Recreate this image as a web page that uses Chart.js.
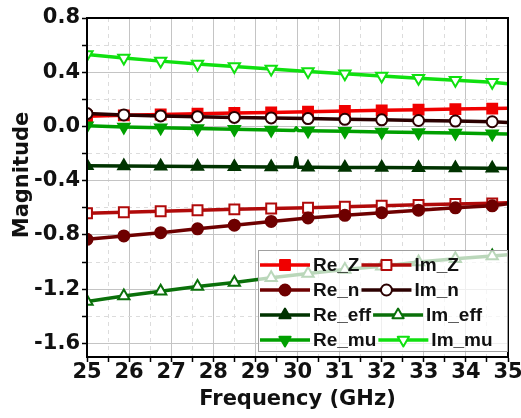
<!DOCTYPE html>
<html>
<head>
<meta charset="utf-8">
<script src="https://cdn.jsdelivr.net/npm/chart.js@4.4.1/dist/chart.umd.min.js"></script>
<style>
    html, body { margin: 0; padding: 0; background: #fff; }
    #wrap { width: 521px; height: 418px; }
</style>
</head>
<body>
<div id="wrap"><canvas id="chart"></canvas></div>
<script>
// Frequencies (GHz) where markers sit; every series also ends at 35 GHz without a marker
const markerFreq = [25, 25.875, 26.75, 27.625, 28.5, 29.375, 30.25, 31.125, 32, 32.875, 33.75, 34.625];
const endFreq = 35;

// 12 marker values + the value at 35 GHz
const reZ   = [0.075, 0.082, 0.088, 0.094, 0.099, 0.104, 0.109, 0.114, 0.119, 0.124, 0.128, 0.132, 0.134];
const imZ   = [-0.64, -0.632, -0.625, -0.618, -0.611, -0.605, -0.599, -0.592, -0.585, -0.578, -0.572, -0.567, -0.563];
const reN   = [-0.832, -0.807, -0.783, -0.755, -0.728, -0.70, -0.675, -0.655, -0.636, -0.617, -0.60, -0.585, -0.57];
const imN   = [0.095, 0.085, 0.078, 0.072, 0.067, 0.063, 0.058, 0.053, 0.049, 0.044, 0.04, 0.035, 0.03];
const reEff = [-0.29, -0.292, -0.294, -0.296, -0.297, -0.299, -0.30, -0.302, -0.303, -0.305, -0.306, -0.308, -0.31];
const imEff = [-1.29, -1.25, -1.215, -1.18, -1.15, -1.115, -1.085, -1.055, -1.03, -1.0, -0.975, -0.955, -0.945];
const reMu  = [0.005, -0.003, -0.009, -0.015, -0.021, -0.026, -0.031, -0.036, -0.041, -0.045, -0.049, -0.053, -0.056];
const imMu  = [0.53, 0.505, 0.482, 0.461, 0.442, 0.424, 0.406, 0.389, 0.372, 0.356, 0.341, 0.326, 0.315];

// Narrow glitch around 30 GHz (no markers on these samples)
const glitchFreq  = [29.93, 29.97, 30.01];
const reEffGlitch = [-0.299, -0.23, -0.30];
const reMuGlitch  = [-0.029, -0.010, -0.030];

// Axis ticks
const xMajorTicks = [25, 26, 27, 28, 29, 30, 31, 32, 33, 34, 35];
const xMinorTicks = [25.5, 26.5, 27.5, 28.5, 29.5, 30.5, 31.5, 32.5, 33.5, 34.5];
const yMajorTicks = [-1.6, -1.2, -0.8, -0.4, 0, 0.4, 0.8];
const yMinorTicks = [-1.4, -1.0, -0.6, -0.2, 0.2, 0.6];

const AXIS_FONT   = { family: 'DejaVu Sans', weight: 'bold', size: 21 };
const LEGEND_FONT = 'bold 19px "Liberation Sans", Arial, sans-serif';

// ─── Data helpers ────────────────────────────────────────────────────────────

function buildPoints(values, extraFreq = [], extraValues = []) {
    const pts = markerFreq.map((f, i) => ({ x: f, y: values[i] }));
    pts.push({ x: endFreq, y: values[values.length - 1] });
    extraFreq.forEach((f, i) => pts.push({ x: f, y: extraValues[i] }));
    return pts.sort((a, b) => a.x - b.x);
}

const isNear = (v, list) => list.some(t => Math.abs(t - v) < 1e-6);

function makeSeries(label, points, color, style, filled, radius, rotation = 0) {
    return {
        label,
        data: points,
        borderColor: color,
        backgroundColor: color,
        borderWidth: 3.5,
        borderJoinStyle: 'round',
        borderCapStyle: 'round',
        pointStyle: style,
        pointRotation: rotation,
        pointBackgroundColor: filled ? color : '#ffffff',
        pointBorderColor: color,
        pointBorderWidth: 2,
        pointRadius: ctx => (ctx.raw && isNear(ctx.raw.x, markerFreq)) ? radius : 0,
        pointHoverRadius: 0,
        tension: 0,
        fill: false,
        _filled: filled,
        _radius: radius,
    };
}

const datasets = [
    makeSeries('Re_Z',   buildPoints(reZ),   '#f00000', 'rect',     true,  7),
    makeSeries('Im_Z',   buildPoints(imZ),   '#b00a0a', 'rect',     false, 7),
    makeSeries('Re_n',   buildPoints(reN),   '#6e0000', 'circle',   true,  5.5),
    makeSeries('Im_n',   buildPoints(imN),   '#2b0000', 'circle',   false, 5.5),
    makeSeries('Re_eff', buildPoints(reEff, glitchFreq, reEffGlitch), '#003300', 'triangle', true,  6.5),
    makeSeries('Im_eff', buildPoints(imEff), '#0a700a', 'triangle', false, 6.5),
    makeSeries('Re_mu',  buildPoints(reMu, glitchFreq, reMuGlitch),   '#00a000', 'triangle', true,  6.5, 180),
    makeSeries('Im_mu',  buildPoints(imMu),  '#10e010', 'triangle', false, 6.5, 180),
];
// later series are drawn on top
datasets.forEach((d, i) => { d.order = datasets.length - i; });

// ─── Plugins ─────────────────────────────────────────────────────────────────

function drawMarker(ctx, style, x, y, r, rotation) {
    ctx.beginPath();
    if (style === 'rect') {
        const s = r * Math.SQRT1_2;
        ctx.rect(x - s, y - s, 2 * s, 2 * s);
    } else if (style === 'circle') {
        ctx.arc(x, y, r, 0, Math.PI * 2);
    } else {
        const rad = (rotation + 270) * Math.PI / 180;  // apex up when rotation = 0
        for (let k = 0; k < 3; k++) {
            const a = rad + k * 2 * Math.PI / 3;
            const px = x + Math.cos(a) * r, py = y + Math.sin(a) * r;
            k ? ctx.lineTo(px, py) : ctx.moveTo(px, py);
        }
        ctx.closePath();
    }
    ctx.fill();
    ctx.stroke();
}

const framePlugin = {
    id: 'frame',
    afterDatasetsDraw(chart) {
        const { ctx, chartArea: a } = chart;
        ctx.save();
        ctx.strokeStyle = '#000';
        ctx.lineWidth = 2;
        ctx.strokeRect(a.left, a.top, a.right - a.left, a.bottom - a.top);
        ctx.restore();
    },
};

const yTitlePlugin = {
    id: 'yTitle',
    afterDraw(chart) {
        const { ctx } = chart;
        ctx.save();
        ctx.translate(23, 175);
        ctx.rotate(-Math.PI / 2);
        ctx.font = 'bold 21px "DejaVu Sans"';
        ctx.fillStyle = '#111';
        ctx.textAlign = 'center';
        ctx.textBaseline = 'middle';
        ctx.fillText('Magnitude', 0, 0);
        ctx.restore();
    },
};

// Two-column legend: each entry is a line with its marker in the middle, then the label
const legendPlugin = {
    id: 'lineLegend',
    afterDatasetsDraw(chart) {
        const { ctx, chartArea: a } = chart;
        const sets = chart.data.datasets;
        const box = { left: a.left + 171, top: a.bottom - 107, right: a.right, bottom: a.bottom - 5 };

        ctx.save();
        ctx.fillStyle = 'rgba(255,255,255,0.72)';
        ctx.fillRect(box.left, box.top, box.right - box.left, box.bottom - box.top);
        ctx.strokeStyle = '#a0a0a0';
        ctx.lineWidth = 1;
        ctx.strokeRect(box.left + 0.5, box.top + 0.5, box.right - box.left - 1, box.bottom - box.top - 1);

        ctx.font = LEGEND_FONT;
        ctx.textBaseline = 'middle';
        ctx.textAlign = 'left';
        ctx.lineJoin = 'round';

        for (let row = 0; row < 4; row++) {
            const y = box.top + 15 + row * 25;
            let x = box.left + 2;
            for (let col = 0; col < 2; col++) {
                const d = sets[row * 2 + col];
                const lineLen = 50;
                ctx.strokeStyle = d.borderColor;
                ctx.lineWidth = 3.5;
                ctx.beginPath();
                ctx.moveTo(x, y);
                ctx.lineTo(x + lineLen, y);
                ctx.stroke();

                ctx.lineWidth = 2;
                ctx.fillStyle = d._filled ? d.borderColor : '#ffffff';
                drawMarker(ctx, d.pointStyle, x + lineLen / 2, y, d._radius, d.pointRotation);

                ctx.fillStyle = '#111';
                const tx = x + lineLen + 3;
                ctx.fillText(d.label, tx, y + 1);
                x = tx + ctx.measureText(d.label).width + 2;
            }
        }
        ctx.restore();
    },
};

// ─── Chart ───────────────────────────────────────────────────────────────────

new Chart(document.getElementById('chart'), {
    type: 'line',
    data: { datasets },
    options: {
        responsive: true,
        maintainAspectRatio: false,
        animation: false,
        events: [],
        layout: { padding: { left: 0, right: 13, top: 18, bottom: 0 } },
        plugins: { legend: { display: false }, tooltip: { enabled: false } },
        scales: {
            x: {
                type: 'linear',
                min: 25,
                max: 35,
                afterBuildTicks: s => { s.ticks = [...xMajorTicks, ...xMinorTicks].sort((p, q) => p - q).map(v => ({ value: v })); },
                afterFit: s => { s.height = 61; },
                ticks: {
                    color: '#111',
                    font: AXIS_FONT,
                    padding: -2,
                    maxRotation: 0,
                    autoSkip: false,
                    callback: v => isNear(v, xMajorTicks) ? String(v) : '',
                },
                grid: {
                    color: c => isNear(c.tick.value, xMajorTicks) ? '#c4c4c4' : '#dcdcdc',
                    lineWidth: 1,
                    tickColor: '#000',
                    tickLength: 5,
                    tickWidth: 1.5,
                },
                border: {
                    display: true,
                    color: '#000',
                    width: 2,
                    dash: c => (c.tick && !isNear(c.tick.value, xMajorTicks)) ? [4, 4] : [],
                },
                title: {
                    display: true,
                    text: 'Frequency (GHz)',
                    color: '#111',
                    font: AXIS_FONT,
                    padding: { top: 0, bottom: 6 },
                },
            },
            y: {
                type: 'linear',
                min: -1.7,
                max: 0.8,
                afterBuildTicks: s => { s.ticks = [...yMajorTicks, ...yMinorTicks].sort((p, q) => p - q).map(v => ({ value: v })); },
                afterFit: s => { s.width = 87; },
                ticks: {
                    color: '#111',
                    font: AXIS_FONT,
                    padding: 2,
                    autoSkip: false,
                    callback: v => isNear(v, yMajorTicks) ? v.toFixed(1) : '',
                },
                grid: {
                    color: c => isNear(c.tick.value, yMajorTicks) ? '#c4c4c4' : '#dcdcdc',
                    lineWidth: 1,
                    tickColor: '#000',
                    tickLength: 5,
                    tickWidth: 1.5,
                },
                border: {
                    display: true,
                    color: '#000',
                    width: 2,
                    dash: c => (c.tick && !isNear(c.tick.value, yMajorTicks)) ? [4, 4] : [],
                },
            },
        },
    },
    plugins: [framePlugin, legendPlugin, yTitlePlugin],
});
</script>
</body>
</html>
